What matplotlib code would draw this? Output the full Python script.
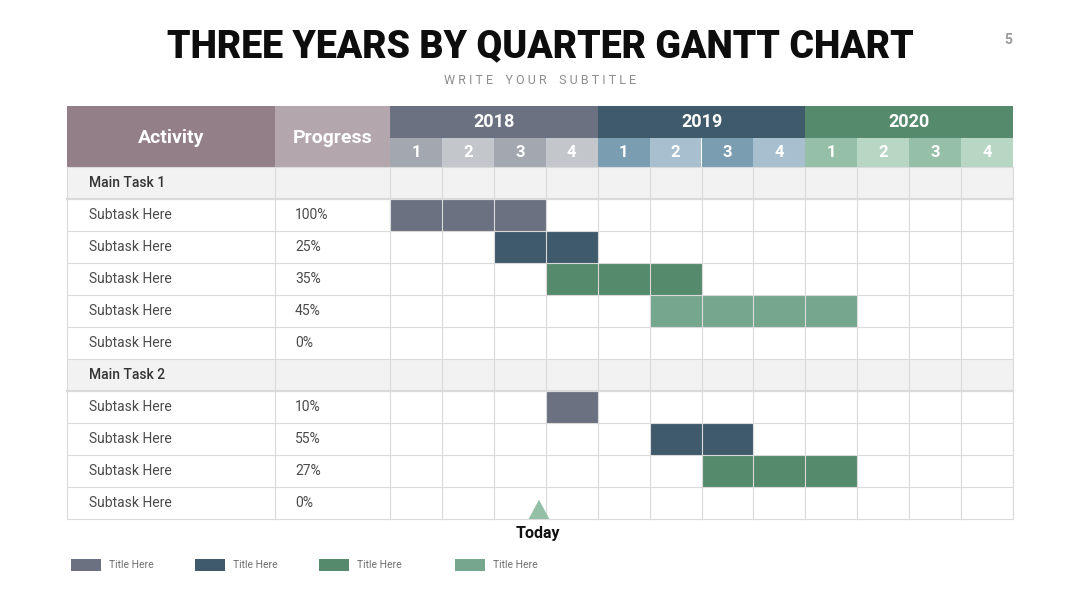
import matplotlib
matplotlib.use("Agg")
import matplotlib.pyplot as plt
from matplotlib.patches import Rectangle, Polygon

# ---- data ----
years = ["2018", "2019", "2020"]
quarters = ["1", "2", "3", "4"]
activities = ["Main Task 1", "Subtask Here", "Subtask Here", "Subtask Here",
              "Subtask Here", "Subtask Here", "Main Task 2", "Subtask Here",
              "Subtask Here", "Subtask Here", "Subtask Here"]
is_main = [True, False, False, False, False, False, True, False, False, False, False]
progress = ["", "100%", "25%", "35%", "45%", "0%", "", "10%", "55%", "27%", "0%"]
bar_start = [None, 0, 2, 3, 5, None, None, 3, 5, 6, None]   # quarter index
bar_len = [0, 3, 2, 3, 4, 0, 0, 1, 2, 3, 0]                 # quarters
bar_series = [None, 0, 1, 2, 3, None, None, 0, 1, 2, None]
series_labels = ["Title Here", "Title Here", "Title Here", "Title Here"]
today_q = 2.87

# ---- style ----
SERIES_COLORS = ["#6b7180", "#3f5a6b", "#568a6d", "#74a78e"]
YEAR_COLORS = ["#6b7180", "#3f5a6b", "#568a6d"]
QTR_COLORS = [("#a3a8b0", "#c3c6cb"), ("#7b9db2", "#a7bfce"), ("#95bfa6", "#b8d6c4")]
ACT_HDR, PRG_HDR = "#937f88", "#b3a6ac"
MAIN_BG = "#f2f2f2"
GRID = "#dadada"
plt.rcParams["font.family"] = ["Roboto", "DejaVu Sans"]

W, H = 1080, 608
fig = plt.figure(figsize=(W / 100, H / 100), dpi=100)
fig.patch.set_facecolor("white")

# table area in pixels
L, R, T, B = 67, 1013, 106, 519
ax = fig.add_axes([L / W, 1 - B / H, (R - L) / W, (B - T) / H])
qw = (R - 390) / 12.0            # px per quarter
x_act = (L - 390) / qw           # left edge of activity col in quarter units
x_prg = (275 - 390) / qw
rh = (B - 167) / len(activities)
y_top = (T - 167) / rh
y_mid = (138 - 167) / rh
ax.set_xlim(x_act, 12)
ax.set_ylim(len(activities), y_top)
ax.axis("off")

# header
ax.add_patch(Rectangle((x_act, y_top), x_prg - x_act, -y_top, color=ACT_HDR, lw=0))
ax.add_patch(Rectangle((x_prg, y_top), -x_prg, -y_top, color=PRG_HDR, lw=0))
ax.text((x_act + x_prg) / 2, y_top / 2 + 0.05, "Activity", color="white",
        fontsize=14, fontweight="bold", ha="center", va="center")
ax.text(x_prg / 2, y_top / 2 + 0.05, "Progress", color="white",
        fontsize=14, fontweight="bold", ha="center", va="center")
for i, yr in enumerate(years):
    ax.add_patch(Rectangle((i * 4, y_top), 4, y_mid - y_top, color=YEAR_COLORS[i], lw=0))
    ax.text(i * 4 + 2, (y_top + y_mid) / 2, yr, color="white", fontsize=13,
            fontweight="bold", ha="center", va="center")
    for j, q in enumerate(quarters):
        ax.add_patch(Rectangle((i * 4 + j, y_mid), 1, -y_mid,
                               color=QTR_COLORS[i][j % 2], lw=0))
        ax.text(i * 4 + j + 0.5, y_mid / 2, q, color="white", fontsize=12,
                fontweight="bold", ha="center", va="center")

# rows
for r, name in enumerate(activities):
    if is_main[r]:
        ax.add_patch(Rectangle((x_act, r), 12 - x_act, 1, color=MAIN_BG, lw=0))
    ax.text(x_act + (89 - L) / qw, r + 0.5, name, fontsize=10,
            color="#333333" if is_main[r] else "#4a4a4a",
            fontweight="medium" if is_main[r] else "normal", va="center")
    ax.text(x_prg + (295 - 275) / qw, r + 0.5, progress[r], fontsize=10,
            color="#4a4a4a", va="center")
    if bar_start[r] is not None:
        ax.barh(r + 0.5, bar_len[r], left=bar_start[r], height=1.0,
                color=SERIES_COLORS[bar_series[r]], lw=0, zorder=2)

# grid
for r in range(len(activities) + 1):
    lw = 1.6 if (r > 0 and is_main[r - 1]) else 0.8
    ax.plot([x_act, 12], [r, r], color=GRID, lw=lw, zorder=3, clip_on=False)
for x in [x_act, x_prg] + list(range(13)):
    ax.plot([x, x], [0, len(activities)], color=GRID, lw=0.8, zorder=3, clip_on=False)

# today marker
tri = Polygon([[today_q - 0.2, 11], [today_q + 0.2, 11], [today_q, 11 - 0.6]],
              closed=True, color="#92bfa6", lw=0, zorder=4, clip_on=False)
ax.add_patch(tri)
ax.text(today_q - 0.03, 11.45, "Today", fontsize=11.5, fontweight="bold",
        ha="center", va="center", color="#111111")

# titles
fig.text(540 / W, 1 - 47 / H, "THREE YEARS BY QUARTER GANTT CHART", fontsize=27,
         fontweight="black", ha="center", va="center", color="#0d0d0d")
fig.text(540 / W, 1 - 81 / H, " ".join("WRITE YOUR SUBTITLE").replace("   ", "    "),
         fontsize=9, ha="center", va="center", color="#8c8c8c")
fig.text(1008 / W, 1 - 40 / H, "5", fontsize=10, fontweight="bold",
         ha="center", va="center", color="#9a9a9a")

# legend
leg_x = [71, 195, 319, 455]
for k, lab in enumerate(series_labels):
    fig.patches.append(Rectangle((leg_x[k] / W, 1 - 571 / H), 30 / W, 12 / H,
                                 transform=fig.transFigure, color=SERIES_COLORS[k], lw=0))
    fig.text((leg_x[k] + 38) / W, 1 - 565 / H, lab, fontsize=7.5,
             va="center", color="#6e6e6e")

fig.savefig("out.png", dpi=100)
